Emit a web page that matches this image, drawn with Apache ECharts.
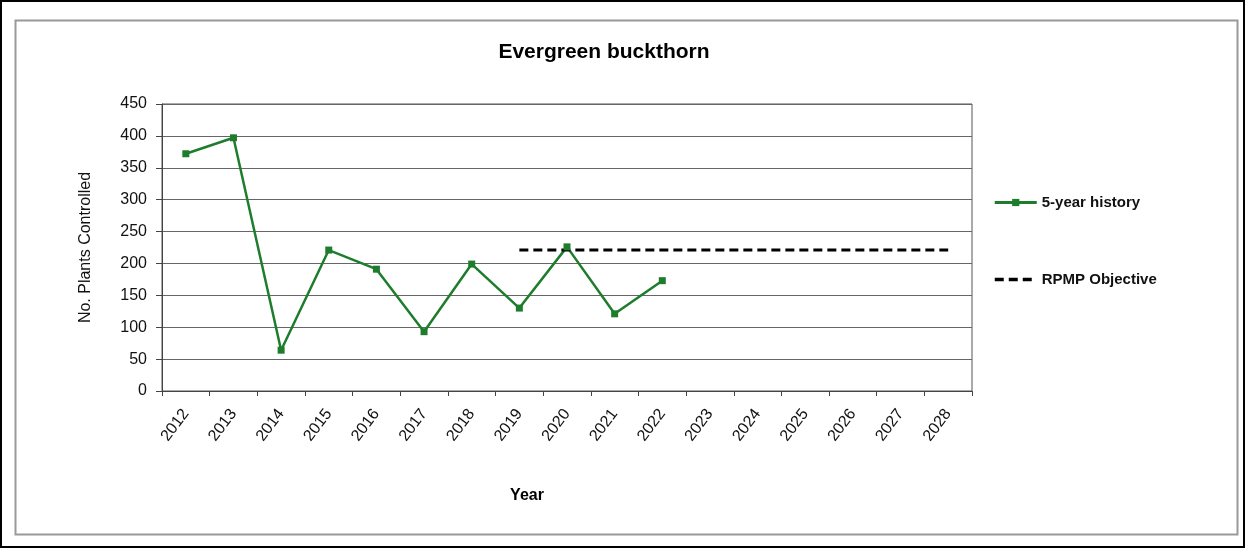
<!DOCTYPE html>
<html>
<head>
<meta charset="utf-8">
<script src="https://cdn.jsdelivr.net/npm/echarts@6/dist/echarts.min.js"></script>
<style>
html,body{margin:0;padding:0;background:#fff;}
#wrap{position:absolute;left:0;top:0;width:1241px;height:544px;border:2px solid #000;}
#c{width:1241px;height:544px;}
</style>
</head>
<body>
<div id="wrap"><div id="c"></div></div>
<script>
const years = ['2012','2013','2014','2015','2016','2017','2018','2019','2020','2021','2022','2023','2024','2025','2026','2027','2028'];
const history = [372, 397, 64, 221, 191, 93, 199, 130, 226, 121, 173];
const objective = [null, null, null, null, null, null, null, 221, 221, 221, 221, 221, 221, 221, 221, 221, 221];
const yTicks = [0, 50, 100, 150, 200, 250, 300, 350, 400, 450];

const chart = echarts.init(document.getElementById('c'), null, {renderer:'canvas'});
const font = 'Liberation Sans, Arial, sans-serif';
chart.setOption({
  animation: false,
  backgroundColor: '#fff',
  textStyle: {fontFamily: font},
  graphic: [{
    type: 'rect', left: 11, top: 16, shape: {width: 1222, height: 514},
    style: {fill: 'none', stroke: '#999', lineWidth: 2}, silent: true
  }],
  title: {
    text: 'Evergreen buckthorn', left: 597, top: 35, textAlign: 'center',
    textStyle: {fontFamily: font, fontSize: 21, fontWeight: 'bold', color: '#000'}
  },
  legend: {
    orient: 'vertical', left: 986, top: 188, itemGap: 62, itemWidth: 42, itemHeight: 9,
    textStyle: {fontFamily: font, fontSize: 15, fontWeight: 'bold', color: '#111'},
    data: [
      {name: '5-year history', lineStyle: {width: 3}},
      {name: 'RPMP Objective', itemStyle: {opacity: 0}, lineStyle: {width: 3.5, type: [9, 5]}}
    ]
  },
  grid: {left: 160, right: 271, top: 102, bottom: 155, show: true, borderColor: '#555', borderWidth: 1},
  xAxis: {
    type: 'category', data: years, boundaryGap: true,
    name: 'Year', nameLocation: 'middle', nameGap: 97,
    nameTextStyle: {fontFamily: font, fontSize: 16, fontWeight: 'bold', color: '#000', padding: [0, 80, 0, 0]},
    axisLine: {lineStyle: {color: '#444', width: 1}},
    axisTick: {show: true, alignWithLabel: false, length: 5, lineStyle: {color: '#444'}},
    axisLabel: {rotate: 53, fontFamily: font, fontSize: 16, color: '#111', margin: 20}
  },
  yAxis: {
    type: 'value', min: 0, max: 450, interval: 50,
    name: 'No. Plants Controlled', nameLocation: 'middle', nameGap: 68,
    nameTextStyle: {fontFamily: font, fontSize: 16, color: '#111'},
    axisLine: {show: true, lineStyle: {color: '#444', width: 1}},
    axisTick: {show: true, length: 6, lineStyle: {color: '#444'}},
    axisLabel: {fontFamily: font, fontSize: 16, color: '#111', margin: 15,
      formatter: v => yTicks.includes(v) ? String(v) : ''},
    splitLine: {show: true, lineStyle: {color: '#666', width: 1}}
  },
  series: [{
    name: '5-year history', type: 'line', data: history,
    symbol: 'rect', symbolSize: 7,
    lineStyle: {color: '#1d7d2c', width: 2.5},
    itemStyle: {color: '#1d7d2c'}
  }, {
    name: 'RPMP Objective', type: 'line', data: objective,
    symbol: 'none', connectNulls: false,
    lineStyle: {color: '#000', width: 3, type: [9, 5]},
    itemStyle: {color: '#000'}
  }]
});
</script>
</body>
</html>
